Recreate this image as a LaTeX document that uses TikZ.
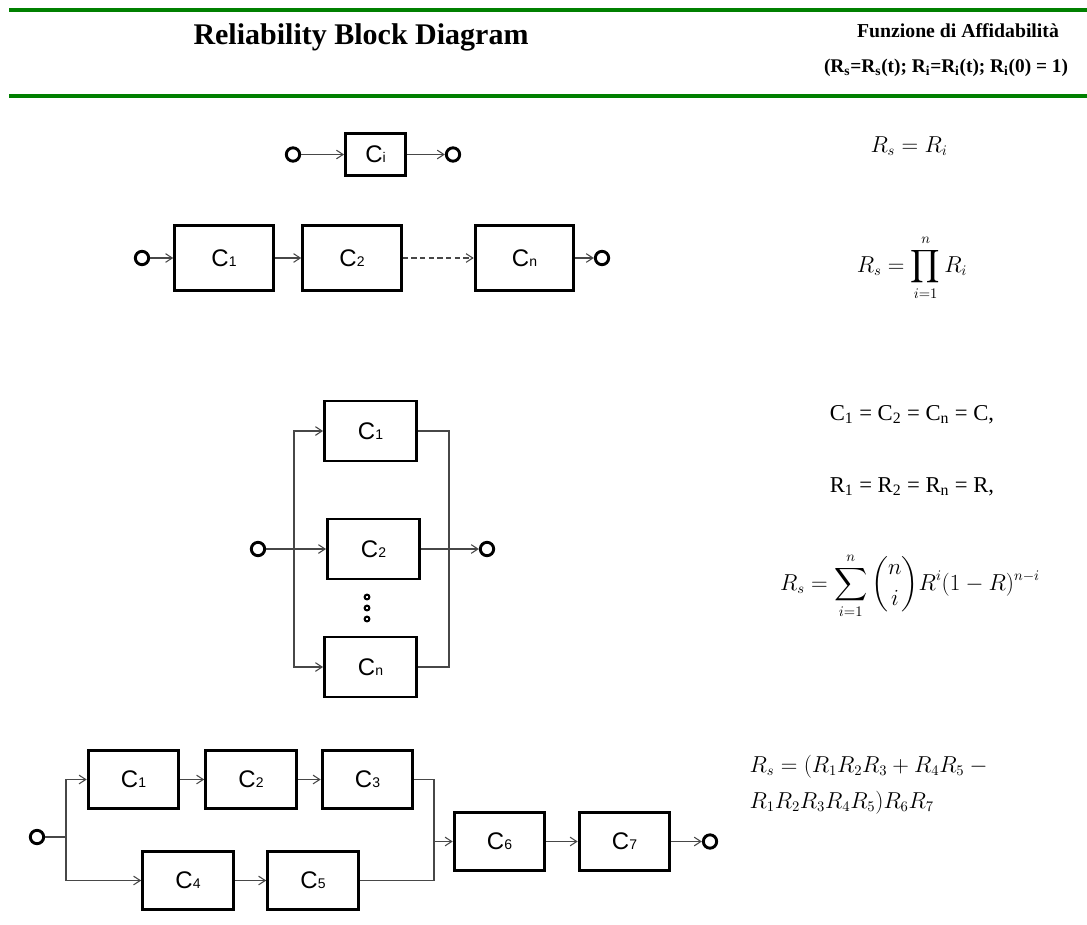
\documentclass[tikz,border=0pt]{standalone}
\usepackage[no-math]{fontspec}
\setmainfont{Liberation Serif}
\setsansfont{Liberation Sans}
\usepackage{amsmath}
\usetikzlibrary{arrows.meta}
\newcommand\clab[2]{C{\fontsize{10.5}{10.5}\selectfont #2}}
\begin{document}
\begin{tikzpicture}[x=0.75pt,y=-0.75pt,
  cbox/.style={draw, line width=2.2pt, inner sep=0pt, font=\sffamily\fontsize{18}{18}\selectfont},
  sbox/.style={cbox, minimum width=45pt, minimum height=31.5pt},
  rbox/.style={cbox, minimum width=74pt, minimum height=49pt},
  pbox/.style={cbox, minimum width=69pt, minimum height=45pt},
  mbox/.style={cbox, minimum width=68pt, minimum height=43.5pt},
  term/.style={circle, draw, line width=2.2pt, minimum size=10pt, inner sep=0pt},
  dotnode/.style={circle, draw, line width=1.5pt, minimum size=3.6pt, inner sep=0pt},
  wire/.style={draw=black!72, line width=0.8pt},
  arr/.style={wire, -{Straight Barb[length=5pt,width=6.5pt]}},
  greenline/.style={draw={rgb,255:red,0;green,128;blue,0}, line width=2.3pt},
  mathtxt/.style={font=\fontsize{16}{19}\selectfont},
  txt/.style={font=\fontsize{17}{20}\selectfont}
]
\useasboundingbox (0,0) rectangle (1087,924);

% header
\draw[greenline] (9,10) -- (1087,10);
\draw[greenline] (9,96) -- (1087,96);
\node[anchor=base, font=\bfseries\fontsize{22.5}{22.5}\selectfont] (title) at (361,45) {Reliability Block Diagram};
\node[anchor=base, font=\bfseries\fontsize{14.8}{14.8}\selectfont] (fz) at (958,38) {Funzione di Affidabilità};
\node[anchor=base, font=\bfseries\fontsize{14.5}{14.5}\selectfont] (fz2) at (946,73) {(R\textsubscript{s}=R\textsubscript{s}(t); R\textsubscript{i}=R\textsubscript{i}(t); R\textsubscript{i}(0) = 1)};

% single block
\node[term] (sin) at (293,154.5) {};
\node[sbox] (sc) at (375.5,154.5) {\clab{C}{i}};
\node[term] (sout) at (453,154.5) {};
\draw[arr] (sin) -- (sc);
\draw[arr] (sc) -- (sout);

% series
\node[term] (rin) at (142,258) {};
\node[rbox] (r1) at (224,258) {\clab{C}{1}};
\node[rbox] (r2) at (352,258) {\clab{C}{2}};
\node[rbox] (rn) at (524.5,258) {\clab{C}{n}};
\node[term] (rout) at (602,258) {};
\draw[arr] (rin) -- (r1);
\draw[arr] (r1) -- (r2);
\draw[arr, dashed, dash pattern=on 4pt off 2.5pt] (r2) -- (rn);
\draw[arr] (rn) -- (rout);

% parallel
\node[term] (pin) at (258,549) {};
\node[pbox] (p1) at (370.5,431) {\clab{C}{1}};
\node[pbox] (p2) at (373.5,549) {\clab{C}{2}};
\node[pbox] (pn) at (370.5,667) {\clab{C}{n}};
\node[term] (pout) at (487,549) {};
\coordinate (pl) at (294,549);
\coordinate (pr) at (449,549);
\draw[wire] (pin) -- (pl);
\draw[arr] (pl) |- (p1);
\draw[arr] (pl) -- (p2);
\draw[arr] (pl) |- (pn);
\draw[wire] (p1) -| (pr);
\draw[wire] (pn) -| (pr);
\draw[wire] (p2) -- (pr);
\draw[arr] (pr) -- (pout);
\node[dotnode] (d1) at (367,597) {};
\node[dotnode] (d2) at (367,608) {};
\node[dotnode] (d3) at (367,619) {};

% mixed
\node[term] (min) at (37,837) {};
\coordinate (ml) at (66,837);
\node[mbox] (m1) at (133.5,779.5) {\clab{C}{1}};
\node[mbox] (m2) at (251,779.5) {\clab{C}{2}};
\node[mbox] (m3) at (367.5,779.5) {\clab{C}{3}};
\node[mbox] (m4) at (188,880.5) {\clab{C}{4}};
\node[mbox] (m5) at (313,880.5) {\clab{C}{5}};
\node[mbox] (m6) at (499.5,841.5) {\clab{C}{6}};
\node[mbox] (m7) at (624.5,841.5) {\clab{C}{7}};
\node[term] (mout) at (710,841.5) {};
\coordinate (mr) at (434,841.5);
\draw[wire] (min) -- (ml);
\draw[arr] (ml) |- (m1);
\draw[arr] (ml) |- (m4);
\draw[arr] (m1) -- (m2);
\draw[arr] (m2) -- (m3);
\draw[arr] (m4) -- (m5);
\draw[wire] (m3) -| (mr);
\draw[wire] (m5) -| (mr);
\draw[arr] (mr) -- (m6);
\draw[arr] (m6) -- (m7);
\draw[arr] (m7) -- (mout);

% formulas
\node[mathtxt, anchor=base] (f1) at (909,152) {$R_s = R_i$};
\node[mathtxt, anchor=base] (f2) at (912,272) {$\displaystyle R_s = \prod_{i=1}^{n} R_i$};
\node[txt, anchor=base] (f3) at (912,420) {C\textsubscript{1} = C\textsubscript{2} = C\textsubscript{n} = C,};
\node[txt, anchor=base] (f4) at (912,492) {R\textsubscript{1} = R\textsubscript{2} = R\textsubscript{n} = R,};
\node[mathtxt, anchor=base] (f5) at (910,590) {$\displaystyle R_s = \sum_{i=1}^{n} \binom{n}{i} R^{i} (1-R)^{n-i}$};
\node[mathtxt, anchor=base west] (f6) at (745,772) {$R_s = (R_1R_2R_3 + R_4R_5 -{}$};
\node[mathtxt, anchor=base west] (f7) at (745,808) {$R_1R_2R_3R_4R_5)R_6R_7$};
\end{tikzpicture}
\end{document}
